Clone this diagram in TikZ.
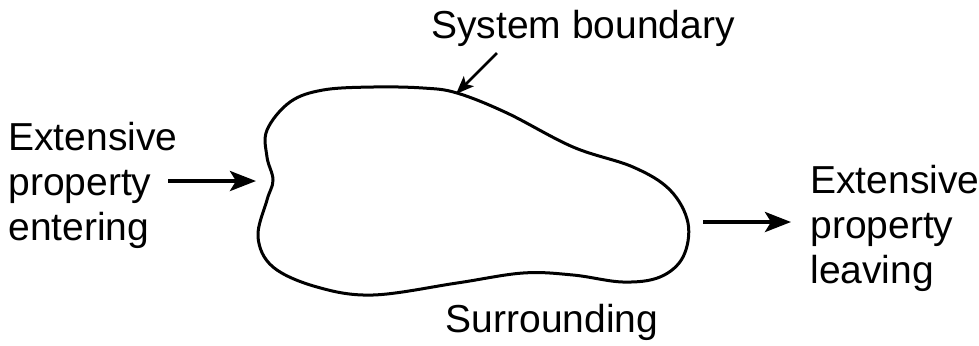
\documentclass[tikz,border=0pt]{standalone}
\usepackage{fontspec}
\setmainfont{Liberation Sans}
\usetikzlibrary{arrows.meta}
\tikzset{
	txt/.style = {inner sep = 0pt, font = \fontsize{19.5}{22.5}\selectfont},
	flow/.style = {line width = 2pt, -{Stealth[length = 13pt, width = 10pt, inset = 3pt]}},
	pointer/.style = {line width = 1.4pt, -{Stealth[length = 9pt, width = 7pt, inset = 2pt]}}
}
\begin{document}
\begin{tikzpicture}[x = 0.5pt, y = -0.5pt]
	\useasboundingbox (0,0) rectangle (979,345);
	% system boundary
	\draw [line width = 1.5pt] plot [smooth cycle, tension = 0.6] coordinates {
		(267,130) (290,102) (323,90) (373,87) (423,88) (457,93) (507,113)
		(573,147) (633,167) (670,190) (688,223) (683,257) (660,277) (623,282)
		(573,275) (523,273) (457,283) (373,295) (317,287) (273,267) (258,237)
		(267,200) (273,180) (267,157)};
	% labels
	\node [txt, align = left, anchor = west] (enter) at (8,185) {Extensive\\property\\entering};
	\node [txt, align = left, anchor = west] (leave) at (810,228) {Extensive\\property\\leaving};
	\node [txt] (bound) at (583,28) {System boundary};
	\node [txt] (surr) at (552,322) {Surrounding};
	% connectors
	\coordinate (inA) at (168,181);
	\coordinate (inB) at (256,181);
	\coordinate (outA) at (703,222);
	\coordinate (outB) at (791,222);
	\coordinate (bndA) at (497,53);
	\coordinate (bndB) at (456,94);
	\draw [flow] (inA) -- (inB);
	\draw [flow] (outA) -- (outB);
	\draw [pointer] (bndA) -- (bndB);
\end{tikzpicture}
\end{document}
